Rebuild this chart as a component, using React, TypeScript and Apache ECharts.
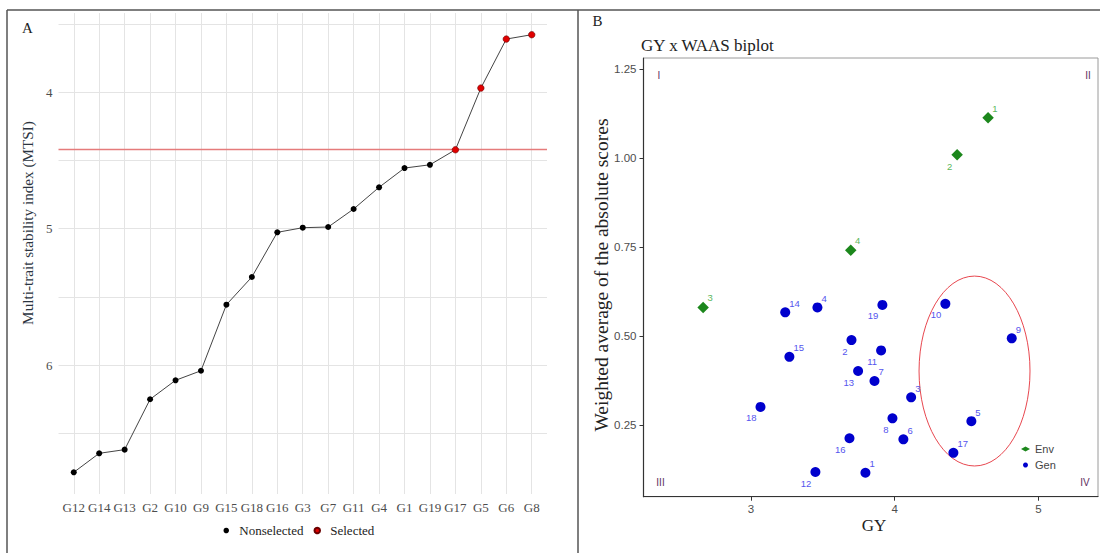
import React, { useEffect, useRef } from "react";
import * as echarts from "echarts";

// ---------- Panel A data ----------
const genotypes = ["G12", "G14", "G13", "G2", "G10", "G9", "G15", "G18", "G16", "G3", "G7", "G11", "G4", "G1", "G19", "G17", "G5", "G6", "G8"];
const mtsiValues = [6.786, 6.647, 6.62, 6.251, 6.112, 6.042, 5.558, 5.355, 5.028, 4.994, 4.989, 4.857, 4.698, 4.557, 4.533, 4.423, 3.971, 3.612, 3.58];
const selectedGenotypes = ["G17", "G5", "G6", "G8"];
const mtsiCutoff = 4.423;
const mtsiTickLabels = [4, 5, 6];
const mtsiGridTicks = [3.5, 4, 4.5, 5, 5.5, 6, 6.5];
const legendA = ["Nonselected", "Selected"];

// ---------- Panel B data ----------
const envNames = ["1", "2", "3", "4"];
const envGY = [4.65, 4.435, 2.668, 3.695];
const envWAAS = [1.114, 1.01, 0.581, 0.742];
const envLabelSide = ["ur", "bl", "ur", "ur"];

const genNames = ["1", "2", "3", "4", "5", "6", "7", "8", "9", "10", "11", "12", "13", "14", "15", "16", "17", "18", "19"];
const genGY = [3.797, 3.7, 4.115, 3.463, 4.534, 4.061, 3.86, 3.985, 4.815, 4.353, 3.906, 3.449, 3.746, 3.239, 3.268, 3.686, 4.409, 3.067, 3.915];
const genWAAS = [0.116, 0.489, 0.328, 0.581, 0.261, 0.21, 0.374, 0.269, 0.494, 0.591, 0.46, 0.118, 0.402, 0.567, 0.442, 0.213, 0.172, 0.301, 0.588];
const genLabelSide = ["ur", "bl", "ur", "ur", "ur", "ur", "ur", "bl", "ur", "bl", "bl", "bl", "bl", "ur", "ur", "bl", "ur", "bl", "bl"];

// highlight ellipse: centre GY, centre WAAS, radius GY, radius WAAS
const ellipseGY = [4.556];
const ellipseWAAS = [0.402];
const ellipseRadiusGY = [0.386];
const ellipseRadiusWAAS = [0.267];

const gyTicks = [3, 4, 5];
const waasTicks = [0.25, 0.5, 0.75, 1.0, 1.25];
const quadrantLabels = ["I", "II", "III", "IV"];
const legendB = ["Env", "Gen"];

const SERIF = "'Liberation Serif', 'Times New Roman', serif";
const SANS = "'Liberation Sans', Arial, sans-serif";

export default function App() {
  const ref = useRef<HTMLDivElement>(null);

  useEffect(() => {
    if (!ref.current) return;
    const chart = echarts.init(ref.current, undefined, { renderer: "svg" });

    const lineData = genotypes.map((g, i) => [i, mtsiValues[i]]);
    const nonSel = genotypes
      .map((g, i) => (selectedGenotypes.includes(g) ? null : [i, mtsiValues[i]]))
      .filter((d) => d !== null);
    const sel = genotypes
      .map((g, i) => (selectedGenotypes.includes(g) ? [i, mtsiValues[i]] : null))
      .filter((d) => d !== null);

    const labelUR = (size: number) => ({ position: [size - 1, 1 + (size - 10) * 0.3], align: "left", verticalAlign: "bottom" });
    const labelBL = (size: number) => ({ position: [1, size + 1], align: "right", verticalAlign: "top" });

    const envData = envNames.map((n, i) => ({
      name: n,
      value: [envGY[i], envWAAS[i]],
      label: envLabelSide[i] === "ur" ? labelUR(11) : labelBL(11),
    }));
    const genData = genNames.map((n, i) => ({
      name: n,
      value: [genGY[i], genWAAS[i]],
      label: genLabelSide[i] === "ur" ? labelUR(10) : labelBL(10),
    }));

    const markLineData: any[] = [
      ...genotypes.map((_, i) => ({ xAxis: i })),
      ...mtsiGridTicks.map((v) => ({ yAxis: v })),
      { yAxis: mtsiCutoff, lineStyle: { color: "#e57b7b", width: 1.4, type: "solid" } },
    ];

    const quadPos = [
      { x: 659, y: 75 },
      { x: 1088, y: 75 },
      { x: 660.5, y: 482 },
      { x: 1085, y: 482 },
    ];

    const option: any = {
      animation: false,
      backgroundColor: "#ffffff",
      grid: [
        { left: 58.5, right: 553, top: 13, bottom: 59, containLabel: false },
        { left: 643.5, right: 2, top: 58, bottom: 56.3, containLabel: false, show: true, borderColor: "#9a9a9a", borderWidth: 1 },
      ],
      xAxis: [
        {
          type: "value",
          gridIndex: 0,
          min: -0.6,
          max: genotypes.length - 1 + 0.6,
          splitNumber: 20,
          axisLine: { show: false },
          axisTick: { show: false },
          splitLine: { show: false },
          axisLabel: {
            customValues: genotypes.map((_, i) => i),
            formatter: (v: number) => (Number.isInteger(v) && genotypes[v] ? genotypes[v] : ""),
            fontFamily: SERIF,
            fontSize: 13,
            color: "#4d4d4d",
            margin: 7,
          },
        },
        {
          type: "value",
          gridIndex: 1,
          min: 2.253,
          max: 5.415,
          splitNumber: 3,
          axisLine: { show: true, lineStyle: { color: "#333", width: 1.2 } },
          axisTick: { show: true, customValues: gyTicks, length: 4, lineStyle: { color: "#333" } },
          splitLine: { show: false },
          axisLabel: {
            customValues: gyTicks,
            formatter: (v: number) => (gyTicks.includes(v) ? String(v) : ""),
            fontFamily: SANS,
            fontSize: 11.5,
            color: "#4d4d4d",
            margin: 6,
          },
        },
      ],
      yAxis: [
        {
          type: "value",
          gridIndex: 0,
          inverse: true,
          min: 3.421,
          max: 6.945,
          splitNumber: 7,
          axisLine: { show: false },
          axisTick: { show: false },
          splitLine: { show: false },
          axisLabel: {
            customValues: mtsiTickLabels,
            formatter: (v: number) => (mtsiTickLabels.includes(v) ? String(v) : ""),
            fontFamily: SERIF,
            fontSize: 13,
            color: "#4d4d4d",
            margin: 6,
          },
        },
        {
          type: "value",
          gridIndex: 1,
          min: 0.0486,
          max: 1.2823,
          splitNumber: 5,
          axisLine: { show: true, lineStyle: { color: "#333", width: 1.2 } },
          axisTick: { show: true, customValues: waasTicks, length: 4, lineStyle: { color: "#333" } },
          splitLine: { show: false },
          axisLabel: {
            customValues: waasTicks,
            formatter: (v: number) => (waasTicks.some((t) => Math.abs(t - v) < 1e-9) ? v.toFixed(2) : ""),
            fontFamily: SANS,
            fontSize: 11.5,
            color: "#4d4d4d",
            margin: 7,
          },
        },
      ],
      legend: [
        {
          data: legendA,
          left: 218.5,
          top: 519,
          orient: "horizontal",
          itemWidth: 16,
          itemHeight: 5.5,
          itemGap: 10,
          selectedMode: false,
          textStyle: { fontFamily: SERIF, fontSize: 13, color: "#222" },
        },
        {
          data: legendB,
          left: 1016,
          top: 438.5,
          orient: "vertical",
          itemWidth: 9,
          itemHeight: 5,
          itemGap: 5,
          selectedMode: false,
          textStyle: { fontFamily: SANS, fontSize: 11, color: "#444" },
        },
      ],
      series: [
        {
          name: "MTSI",
          type: "line",
          xAxisIndex: 0,
          yAxisIndex: 0,
          data: lineData,
          showSymbol: false,
          symbol: "none",
          lineStyle: { color: "#444", width: 1 },
          z: 2,
          silent: true,
          markLine: {
            z: 1,
            silent: true,
            animation: false,
            symbol: ["none", "none"],
            label: { show: false },
            lineStyle: { color: "#e4e4e4", width: 1, type: "solid" },
            emphasis: { disabled: true },
            data: markLineData,
          },
        },
        {
          name: "Nonselected",
          type: "scatter",
          xAxisIndex: 0,
          yAxisIndex: 0,
          data: nonSel,
          symbol: "circle",
          symbolSize: 6,
          itemStyle: { color: "#000", opacity: 1 },
          z: 3,
        },
        {
          name: "Selected",
          type: "scatter",
          xAxisIndex: 0,
          yAxisIndex: 0,
          data: sel,
          symbol: "circle",
          symbolSize: 6.5,
          itemStyle: { color: "#e00000", borderColor: "#6a0000", borderWidth: 0.6, opacity: 1 },
          z: 3,
        },
        {
          name: "ellipse",
          type: "custom",
          xAxisIndex: 1,
          yAxisIndex: 1,
          silent: true,
          data: ellipseGY.map((g, i) => [g, ellipseWAAS[i], ellipseRadiusGY[i], ellipseRadiusWAAS[i]]),
          renderItem: (params: any, api: any) => {
            const c = api.coord([api.value(0), api.value(1)]);
            const s = api.size([api.value(2), api.value(3)]);
            return {
              type: "ellipse",
              shape: { cx: c[0], cy: c[1], rx: s[0], ry: s[1] },
              style: { fill: "none", stroke: "#e8474f", lineWidth: 1 },
            };
          },
          z: 2,
        },
        {
          name: "Env",
          type: "scatter",
          xAxisIndex: 1,
          yAxisIndex: 1,
          data: envData,
          symbol: "diamond",
          symbolSize: 11.5,
          itemStyle: { color: "#1c871c", opacity: 1 },
          label: { show: true, formatter: "{b}", fontFamily: SANS, fontSize: 9.5, color: "#5cb85c" },
          z: 3,
        },
        {
          name: "Gen",
          type: "scatter",
          xAxisIndex: 1,
          yAxisIndex: 1,
          data: genData,
          symbol: "circle",
          symbolSize: 10,
          itemStyle: { color: "#0000cd", opacity: 1 },
          label: { show: true, formatter: "{b}", fontFamily: SANS, fontSize: 9.5, color: "#5555ee" },
          z: 3,
        },
      ],
      graphic: [
        { type: "line", shape: { x1: 7, y1: 10, x2: 1100, y2: 10 }, style: { stroke: "#555", lineWidth: 1.5 } },
        { type: "line", shape: { x1: 7, y1: 10, x2: 7, y2: 553 }, style: { stroke: "#555", lineWidth: 1.5 } },
        { type: "line", shape: { x1: 578, y1: 10, x2: 578, y2: 553 }, style: { stroke: "#555", lineWidth: 1.5 } },
        { type: "text", x: 27.5, y: 27.5, style: { text: "A", fontFamily: SERIF, fontSize: 15, fill: "#222", align: "center", verticalAlign: "middle" } },
        { type: "text", x: 597.5, y: 21, style: { text: "B", fontFamily: SERIF, fontSize: 15, fill: "#222", align: "center", verticalAlign: "middle" } },
        { type: "text", x: 641, y: 45, style: { text: "GY x WAAS biplot", fontFamily: SERIF, fontSize: 17, fill: "#222", align: "left", verticalAlign: "middle" } },
        {
          type: "text",
          x: 27,
          y: 223,
          rotation: Math.PI / 2,
          style: { text: "Multi-trait stability index (MTSI)", fontFamily: SERIF, fontSize: 15.2, fill: "#2b3440", align: "center", verticalAlign: "middle" },
        },
        {
          type: "text",
          x: 601,
          y: 275,
          rotation: Math.PI / 2,
          style: { text: "Weighted average of the absolute scores", fontFamily: SERIF, fontSize: 19.5, fill: "#222", align: "center", verticalAlign: "middle" },
        },
        { type: "text", x: 874, y: 525, style: { text: "GY", fontFamily: SERIF, fontSize: 17, fill: "#222", align: "center", verticalAlign: "middle" } },
        ...quadrantLabels.map((q, i) => ({
          type: "text",
          x: quadPos[i].x,
          y: quadPos[i].y,
          style: { text: q, fontFamily: SANS, fontSize: 10, fill: "#5e2e5e", align: "center", verticalAlign: "middle" },
        })),
      ],
    };

    chart.setOption(option);
    return () => chart.dispose();
  }, []);

  return (
    <div
      ref={ref}
      style={{ position: "fixed", left: 0, top: 0, width: 1100, height: 553, background: "#fff" }}
    />
  );
}
